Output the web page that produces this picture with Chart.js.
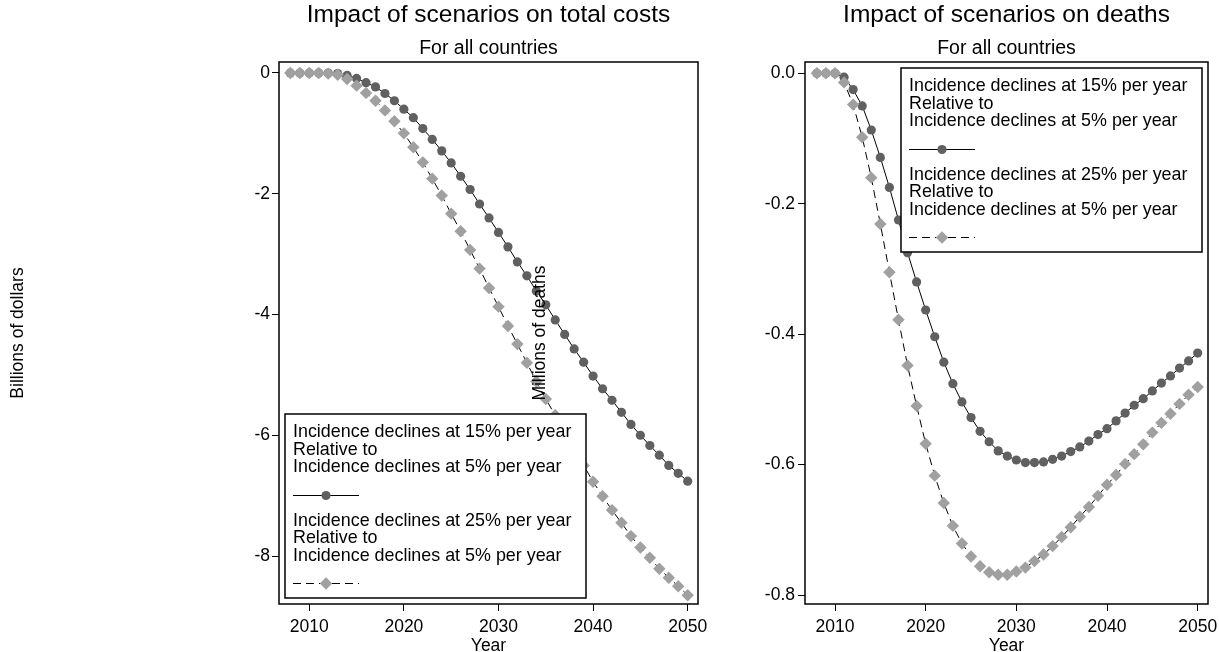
<!DOCTYPE html>
<html><head><meta charset="utf-8">
<script src="https://cdn.jsdelivr.net/npm/chart.js@4.4.0/dist/chart.umd.min.js"></script>
<style>
html,body{margin:0;padding:0;background:#fff;overflow:hidden;width:1219px;height:652px;}
canvas{position:absolute;top:0;}
#c1{left:0px;}
#c2{left:500px;}
</style></head><body>
<canvas id="c1" width="720" height="652"></canvas>
<canvas id="c2" width="719" height="652"></canvas>
<script>
const years = [2008,2009,2010,2011,2012,2013,2014,2015,2016,2017,2018,2019,2020,2021,2022,2023,2024,2025,2026,2027,2028,2029,2030,2031,2032,2033,2034,2035,2036,2037,2038,2039,2040,2041,2042,2043,2044,2045,2046,2047,2048,2049,2050];

// Billions of dollars
const costs15 = [0,0,0,0,0,-0.01,-0.04,-0.09,-0.16,-0.23,-0.34,-0.46,-0.60,-0.74,-0.92,-1.10,-1.29,-1.49,-1.71,-1.93,-2.17,-2.40,-2.64,-2.88,-3.13,-3.36,-3.61,-3.84,-4.09,-4.33,-4.57,-4.79,-5.02,-5.23,-5.42,-5.62,-5.82,-6.00,-6.17,-6.33,-6.50,-6.63,-6.76];
const costs25 = [0,0,0,0,-0.01,-0.03,-0.10,-0.21,-0.33,-0.46,-0.62,-0.80,-1.00,-1.23,-1.48,-1.75,-2.03,-2.33,-2.62,-2.93,-3.24,-3.56,-3.87,-4.19,-4.49,-4.80,-5.11,-5.40,-5.67,-5.94,-6.22,-6.50,-6.77,-7.01,-7.24,-7.45,-7.67,-7.86,-8.03,-8.21,-8.36,-8.50,-8.65];

// Millions of deaths
const deaths15 = [0,0,0,-0.006,-0.025,-0.050,-0.087,-0.129,-0.175,-0.225,-0.275,-0.320,-0.363,-0.404,-0.443,-0.476,-0.504,-0.528,-0.549,-0.565,-0.579,-0.587,-0.593,-0.597,-0.597,-0.596,-0.592,-0.587,-0.580,-0.573,-0.564,-0.554,-0.545,-0.533,-0.521,-0.509,-0.499,-0.487,-0.475,-0.464,-0.452,-0.441,-0.429];
const deaths25 = [0,0,0,-0.014,-0.048,-0.098,-0.160,-0.231,-0.305,-0.378,-0.448,-0.510,-0.568,-0.617,-0.659,-0.694,-0.721,-0.741,-0.756,-0.765,-0.769,-0.769,-0.764,-0.758,-0.748,-0.738,-0.725,-0.711,-0.696,-0.680,-0.665,-0.648,-0.631,-0.616,-0.599,-0.584,-0.569,-0.551,-0.536,-0.522,-0.507,-0.493,-0.481];

const yearTicks = [2010,2020,2030,2040,2050];
const costTicks = [0,-2,-4,-6,-8];
const deathTicks = [0,-0.2,-0.4,-0.6,-0.8];

const legendLines = [
  ["Incidence declines at 15% per year","Relative to","Incidence declines at 5% per year"],
  ["Incidence declines at 25% per year","Relative to","Incidence declines at 5% per year"]
];

const FONT = "'Liberation Sans', Arial, Helvetica, sans-serif";
const FS = 17.5;
const LFS = 17.9;

function pts(vals){ return years.map((y,i)=>({x:y, y:vals[i]})); }

const frame = {
  id:'frame',
  beforeDatasetsDraw(chart){
    const {ctx, chartArea:a} = chart;
    ctx.save();
    ctx.strokeStyle='#000'; ctx.lineWidth=1.5;
    ctx.strokeRect(a.left, a.top, a.right-a.left, a.bottom-a.top);
    ctx.restore();
  }
};

function marker(ctx, ds, x, y){
  ctx.save();
  ctx.fillStyle = ds.pointBackgroundColor;
  if (Chart.helpers && Chart.helpers.drawPoint) {
    Chart.helpers.drawPoint(ctx, {pointStyle: ds.pointStyle, radius: ds.pointRadius, borderWidth: 0, rotation: 0}, x, y);
  } else {
    ctx.beginPath();
    if (ds.pointStyle === 'rectRot') {
      const r = ds.pointRadius;
      ctx.moveTo(x, y-r); ctx.lineTo(x+r, y); ctx.lineTo(x, y+r); ctx.lineTo(x-r, y); ctx.closePath();
    } else {
      ctx.arc(x, y, ds.pointRadius, 0, Math.PI*2);
    }
    ctx.fill();
  }
  ctx.restore();
}

const boxLegend = {
  id:'boxLegend',
  afterDatasetsDraw(chart, args, opts){
    const {ctx, chartArea:a} = chart;
    const W = 301, H = 184, m = 6;
    const left = opts.corner === 'bottomleft' ? a.left + m : a.right - m - W;
    const top = opts.corner === 'bottomleft' ? a.bottom - m - H : a.top + m;
    ctx.save();
    ctx.fillStyle = '#fff'; ctx.fillRect(left, top, W, H);
    ctx.strokeStyle = '#000'; ctx.lineWidth = 1.5; ctx.strokeRect(left, top, W, H);
    ctx.font = LFS + 'px ' + FONT;
    ctx.textBaseline = 'middle'; ctx.textAlign = 'left';
    chart.data.datasets.forEach((ds, k) => {
      const y0 = top + 18.5 + k * 88.5;
      ctx.fillStyle = '#000';
      legendLines[k].forEach((t, j) => ctx.fillText(t, left + 8, y0 + j * 17.5));
      const sy = Math.round(y0 + 62) + 0.5;
      ctx.save();
      ctx.strokeStyle = ds.borderColor; ctx.lineWidth = ds.borderWidth;
      ctx.setLineDash(ds.borderDash || []);
      ctx.beginPath(); ctx.moveTo(left + 8, sy); ctx.lineTo(left + 74, sy); ctx.stroke();
      ctx.restore();
      marker(ctx, ds, left + 41, sy);
    });
    ctx.restore();
  }
};

function series(v15, v25){
  return [
    {data: pts(v15), borderColor:'#000', borderWidth:1, tension:0, fill:false,
     pointStyle:'circle', pointRadius:4.6, pointBackgroundColor:'#606060', pointBorderWidth:0, order:1},
    {data: pts(v25), borderColor:'#000', borderWidth:1, borderDash:[8,5], tension:0, fill:false,
     pointStyle:'rectRot', pointRadius:6.2, pointBackgroundColor:'#a0a0a0', pointBorderWidth:0, order:0}
  ];
}

function makeChart(id, o){
  return new Chart(document.getElementById(id), {
    type:'line',
    data:{datasets: series(o.v15, o.v25)},
    options:{
      responsive:false, animation:false, devicePixelRatio:1,
      layout:{padding:{left:0, right:o.padR, top:0, bottom:0}},
      plugins:{
        legend:{display:false}, tooltip:{enabled:false},
        title:{display:true, text:o.title, fullSize:false, color:'#000',
               font:{family:FONT, size:24.5, weight:'normal', lineHeight:1.2}, padding:{top:1, bottom:0}},
        subtitle:{display:true, text:'For all countries', fullSize:false, color:'#000',
               font:{family:FONT, size:19.5, weight:'normal', lineHeight:1.2}, padding:{top:6.4, bottom:1.8}},
        boxLegend:{corner:o.corner}
      },
      scales:{
        x:{type:'linear', min:o.xmin, max:o.xmax,
           afterBuildTicks: s => { s.ticks = yearTicks.map(v => ({value:v})); },
           afterFit: s => { s.height = 48; s.paddingLeft = 0; s.paddingRight = 0; },
           border:{display:false},
           grid:{drawOnChartArea:false, drawTicks:true, tickLength:7, color:'#000', lineWidth:1},
           ticks:{color:'#000', font:{family:FONT, size:FS}, padding:5.5, maxRotation:0, autoSkip:false,
                  callback: v => String(v)},
           title:{display:true, text:'Year', color:'#000', font:{family:FONT, size:FS, lineHeight:0.7},
                  padding:{top:0, bottom:0}}},
        y:{type:'linear', min:o.ymin, max:o.ymax,
           afterBuildTicks: s => { s.ticks = o.yticks.map(v => ({value:v})); },
           afterFit: s => { s.width = o.yWidth; s.paddingTop = 0; s.paddingBottom = 0; },
           border:{display:false},
           grid:{drawOnChartArea:false, drawTicks:true, tickLength:7, color:'#000', lineWidth:1},
           ticks:{color:'#000', font:{family:FONT, size:FS}, padding:o.tickPad, autoSkip:false,
                  callback: o.fmt},
           title:{display:true, text:o.ytitle, color:'#000', font:{family:FONT, size:FS, lineHeight:1.2},
                  padding:{top:o.ytPad, bottom:0}}}
      }
    },
    plugins:[frame, boxLegend]
  });
}

makeChart('c1', {
  v15: costs15, v25: costs25, title:'Impact of scenarios on total costs', corner:'bottomleft',
  padR:22, xmin:2006.8, xmax:2051.09, ymin:-8.795, ymax:0.182, yticks:costTicks,
  yWidth:279, tickPad:2, ytPad:7.5, ytitle:'Billions of dollars', fmt: v => String(v)
});
makeChart('c2', {
  v15: deaths15, v25: deaths25, title:'Impact of scenarios on deaths', corner:'topright',
  padR:11, xmin:2006.69, xmax:2051.14, ymin:-0.8138, ymax:0.0173, yticks:deathTicks,
  yWidth:305, tickPad:3, ytPad:29.5, ytitle:'Millions of deaths', fmt: v => Number(v).toFixed(1)
});
</script>
</body></html>
